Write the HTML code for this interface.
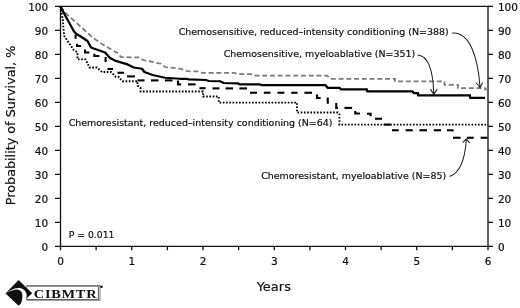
<!DOCTYPE html>
<html><head><meta charset="utf-8"><title>Probability of Survival</title>
<style>
html,body{margin:0;padding:0;background:#fff;}
body{width:520px;height:308px;overflow:hidden;}
svg{display:block;}
text{font-family:"DejaVu Sans","Liberation Sans",sans-serif;fill:#111;stroke:#111;stroke-width:0.2px;}
.t{font-size:10.5px;}
.l{font-size:9.45px;}
.a{font-size:13px;}
.ax{stroke:#111;stroke-width:1.3;fill:none;}
.ar{stroke:#222;stroke-width:1.05;fill:none;stroke-linecap:round;stroke-linejoin:round;}
</style></head><body>
<svg width="520" height="308" viewBox="0 0 520 308">
<rect width="520" height="308" fill="#fff"/>

<path class="ax" d="M60.50 6.30 H488.00 V246.30 H60.50 Z"/>
<path class="ax" d="M60.50 246.30 h-5.5 M488.00 246.30 h5 M60.50 222.30 h-5.5 M488.00 222.30 h5 M60.50 198.30 h-5.5 M488.00 198.30 h5 M60.50 174.30 h-5.5 M488.00 174.30 h5 M60.50 150.30 h-5.5 M488.00 150.30 h5 M60.50 126.30 h-5.5 M488.00 126.30 h5 M60.50 102.30 h-5.5 M488.00 102.30 h5 M60.50 78.30 h-5.5 M488.00 78.30 h5 M60.50 54.30 h-5.5 M488.00 54.30 h5 M60.50 30.30 h-5.5 M488.00 30.30 h5 M60.50 6.30 h-5.5 M488.00 6.30 h5 M60.50 246.30 v4 M96.12 246.30 v4 M131.75 246.30 v4 M167.38 246.30 v4 M203.00 246.30 v4 M238.62 246.30 v4 M274.25 246.30 v4 M309.88 246.30 v4 M345.50 246.30 v4 M381.12 246.30 v4 M416.75 246.30 v4 M452.38 246.30 v4 M488.00 246.30 v4 "/>
<text class="t" x="48.2" y="250.70" text-anchor="end">0</text>
<text class="t" x="497.9" y="250.70">0</text>
<text class="t" x="48.2" y="226.70" text-anchor="end">10</text>
<text class="t" x="497.9" y="226.70">10</text>
<text class="t" x="48.2" y="202.70" text-anchor="end">20</text>
<text class="t" x="497.9" y="202.70">20</text>
<text class="t" x="48.2" y="178.70" text-anchor="end">30</text>
<text class="t" x="497.9" y="178.70">30</text>
<text class="t" x="48.2" y="154.70" text-anchor="end">40</text>
<text class="t" x="497.9" y="154.70">40</text>
<text class="t" x="48.2" y="130.70" text-anchor="end">50</text>
<text class="t" x="497.9" y="130.70">50</text>
<text class="t" x="48.2" y="106.70" text-anchor="end">60</text>
<text class="t" x="497.9" y="106.70">60</text>
<text class="t" x="48.2" y="82.70" text-anchor="end">70</text>
<text class="t" x="497.9" y="82.70">70</text>
<text class="t" x="48.2" y="58.70" text-anchor="end">80</text>
<text class="t" x="497.9" y="58.70">80</text>
<text class="t" x="48.2" y="34.70" text-anchor="end">90</text>
<text class="t" x="497.9" y="34.70">90</text>
<text class="t" x="48.2" y="10.70" text-anchor="end">100</text>
<text class="t" x="497.9" y="10.70">100</text>
<text class="t" x="60.50" y="264.9" text-anchor="middle">0</text>
<text class="t" x="131.75" y="264.9" text-anchor="middle">1</text>
<text class="t" x="203.00" y="264.9" text-anchor="middle">2</text>
<text class="t" x="274.25" y="264.9" text-anchor="middle">3</text>
<text class="t" x="345.50" y="264.9" text-anchor="middle">4</text>
<text class="t" x="416.75" y="264.9" text-anchor="middle">5</text>
<text class="t" x="488.00" y="264.9" text-anchor="middle">6</text>
<polyline points="60.50,6.50 67.50,15.00 80.00,26.00 92.50,37.50 105.00,46.00 118.75,53.75 120.60,57.00 140.00,57.50 143.00,60.00 161.00,63.75 165.00,67.00 180.00,68.75 182.50,69.40 187.50,71.25 198.75,71.50 202.00,72.90 235.00,73.00 237.50,74.20 252.50,74.20 255.60,75.60 327.00,75.60 330.60,78.75 395.00,78.75 395.00,81.25 444.40,81.25 444.40,84.75 458.00,84.75 458.00,88.00 485.00,88.00 485.00,89.40 488.00,89.40" fill="none" stroke="#7a7a7a" stroke-width="1.75" stroke-dasharray="5 2.75"/>
<polyline points="60.50,6.50 62.80,20.00 63.60,30.00 64.30,36.00 67.50,41.00 73.75,50.00 77.50,52.50 77.50,59.40 85.60,59.40 89.40,67.50 97.00,67.50 102.00,72.00 111.00,72.00 116.00,77.00 118.75,77.00 122.50,81.25 137.50,81.25 137.50,85.60 140.60,88.00 140.60,91.50 203.00,91.50 203.00,96.50 218.75,96.50 218.75,102.60 297.00,102.60 297.00,112.50 338.00,112.50 339.40,114.40 339.40,124.60 488.00,124.60" fill="none" stroke="#000" stroke-width="1.9" stroke-dasharray="1.65 1.6"/>
<polyline points="75.60,35.00 75.60,38.75" fill="none" stroke="#000" stroke-width="2.1"/>
<polyline points="77.00,43.75 77.00,46.00 81.00,46.00" fill="none" stroke="#000" stroke-width="2.1"/>
<polyline points="85.00,49.40 85.00,52.50 89.40,52.50" fill="none" stroke="#000" stroke-width="2.1"/>
<polyline points="94.40,53.75 94.40,56.00 99.40,56.00" fill="none" stroke="#000" stroke-width="2.1"/>
<polyline points="105.60,57.00 105.60,62.00" fill="none" stroke="#000" stroke-width="2.1"/>
<polyline points="107.50,69.00 113.00,69.00" fill="none" stroke="#000" stroke-width="2.1"/>
<polyline points="117.50,72.75 124.00,72.75" fill="none" stroke="#000" stroke-width="2.1"/>
<polyline points="127.00,76.40 135.00,76.40" fill="none" stroke="#000" stroke-width="2.1"/>
<polyline points="137.50,80.40 144.40,80.40" fill="none" stroke="#000" stroke-width="2.1"/>
<polyline points="151.00,80.40 158.50,80.40" fill="none" stroke="#000" stroke-width="2.1"/>
<polyline points="165.00,80.40 172.50,80.40" fill="none" stroke="#000" stroke-width="2.1"/>
<polyline points="178.00,80.40 178.00,84.40 181.00,84.40" fill="none" stroke="#000" stroke-width="2.1"/>
<polyline points="188.00,84.40 195.60,84.40" fill="none" stroke="#000" stroke-width="2.1"/>
<polyline points="199.40,88.20 205.60,88.20" fill="none" stroke="#000" stroke-width="2.1"/>
<polyline points="212.50,88.40 219.40,88.40" fill="none" stroke="#000" stroke-width="2.1"/>
<polyline points="225.60,88.40 233.00,88.40" fill="none" stroke="#000" stroke-width="2.1"/>
<polyline points="239.40,88.40 247.00,88.40" fill="none" stroke="#000" stroke-width="2.1"/>
<polyline points="250.00,92.75 257.00,92.75" fill="none" stroke="#000" stroke-width="2.1"/>
<polyline points="263.75,92.75 270.50,92.75" fill="none" stroke="#000" stroke-width="2.1"/>
<polyline points="277.50,92.75 284.40,92.75" fill="none" stroke="#000" stroke-width="2.1"/>
<polyline points="291.25,92.75 297.50,92.75" fill="none" stroke="#000" stroke-width="2.1"/>
<polyline points="304.40,92.75 312.00,92.75" fill="none" stroke="#000" stroke-width="2.1"/>
<polyline points="317.00,94.40 317.00,98.00 320.60,98.00" fill="none" stroke="#000" stroke-width="2.1"/>
<polyline points="327.75,97.50 327.75,103.75" fill="none" stroke="#000" stroke-width="2.1"/>
<polyline points="336.25,103.00 336.25,108.00 338.00,108.00" fill="none" stroke="#000" stroke-width="2.1"/>
<polyline points="344.40,107.90 352.00,107.90" fill="none" stroke="#000" stroke-width="2.1"/>
<polyline points="355.30,111.00 355.30,113.50 360.00,113.50" fill="none" stroke="#000" stroke-width="2.1"/>
<polyline points="367.00,113.75 370.60,113.75 370.60,116.25" fill="none" stroke="#000" stroke-width="2.1"/>
<polyline points="375.00,118.75 382.00,118.75" fill="none" stroke="#000" stroke-width="2.1"/>
<polyline points="383.75,124.60 390.60,124.60" fill="none" stroke="#000" stroke-width="2.1"/>
<polyline points="392.00,130.25 398.75,130.25" fill="none" stroke="#000" stroke-width="2.1"/>
<polyline points="405.60,130.25 412.75,130.25" fill="none" stroke="#000" stroke-width="2.1"/>
<polyline points="419.40,130.25 427.00,130.25" fill="none" stroke="#000" stroke-width="2.1"/>
<polyline points="433.75,130.25 441.00,130.25" fill="none" stroke="#000" stroke-width="2.1"/>
<polyline points="447.00,130.25 452.50,130.25 452.50,131.50" fill="none" stroke="#000" stroke-width="2.1"/>
<polyline points="453.00,137.75 460.60,137.75" fill="none" stroke="#000" stroke-width="2.1"/>
<polyline points="467.00,137.75 473.75,137.75" fill="none" stroke="#000" stroke-width="2.1"/>
<polyline points="480.60,137.75 487.50,137.75" fill="none" stroke="#000" stroke-width="2.1"/>
<polyline points="60.50,6.50 66.00,17.00 73.75,31.00 76.00,33.75 80.00,36.00 87.50,41.00 91.00,47.50 105.00,52.50 110.00,58.00 115.00,60.60 127.50,64.40 133.75,67.50 142.00,68.75 144.40,72.00 152.50,75.00 165.00,77.75 180.00,78.75 186.00,78.75 188.75,79.40 206.00,80.00 208.75,81.00 220.00,81.25 223.75,83.00 238.00,83.40 240.00,84.40 259.40,84.40 262.00,85.20 325.60,85.20 327.50,87.75 339.40,87.75 341.00,89.40 367.00,89.40 367.00,91.25 412.50,91.25 413.75,93.00 418.00,93.00 418.00,95.40 470.00,95.40 470.00,97.75 485.00,97.75" fill="none" stroke="#000" stroke-width="2.25" stroke-linejoin="round"/>
<text class="l" x="178.7" y="35.2" textLength="270" lengthAdjust="spacingAndGlyphs">Chemosensitive, reduced–intensity conditioning (N=388)</text>
<text class="l" x="223.7" y="57.2" textLength="191.5" lengthAdjust="spacingAndGlyphs">Chemosensitive, myeloablative (N=351)</text>
<text class="l" x="68.7" y="126.4" textLength="263.8" lengthAdjust="spacingAndGlyphs">Chemoresistant, reduced–intensity conditioning (N=64)</text>
<text class="l" x="261.2" y="178.9" textLength="185" lengthAdjust="spacingAndGlyphs">Chemoresistant, myeloablative (N=85)</text>
<text class="l" x="68.7" y="238.2" textLength="45.8" lengthAdjust="spacingAndGlyphs">P = 0.011</text>
<path class="ar" d="M452.5 33 C470 32 478 58 480 87 M476.3 83 L480 87.5 L482.6 83"/>
<path class="ar" d="M418 55 C428 56 433 68 433.8 94 M430.6 89.4 L433.8 94.4 L437 89.4"/>
<path class="ar" d="M450 176.3 C459 173 465 160 466.3 139.5 M463 142.3 L466.3 138.8 L469.5 142.6"/>
<text class="a" x="273.8" y="290.7" text-anchor="middle">Years</text>
<text class="a" style="font-size:12.75px" transform="translate(15 205.2) rotate(-90)" textLength="159.5" lengthAdjust="spacingAndGlyphs">Probability of Survival, %</text>
<g>
<rect x="26.7" y="285.8" width="73.3" height="14.3" fill="#fff" stroke="#8a8a8a" stroke-width="1.1"/>
<path d="M26.7 285.8 H100" fill="none" stroke="#808080" stroke-width="1.7"/>
<path d="M27 299.7 H98.4 V287" fill="none" stroke="#2a2a2a" stroke-width="0.8"/>
<path d="M18.6 280 L32.2 293.2 L18.6 305.7 L5.5 293.5 Z" fill="#111"/>
<path d="M7.3 292.4 C11 289.5 15 287.7 19.5 287.9 C24 288.5 27 292 26.7 296 C26.4 299 25 301.5 23.2 303.4 L20.6 305 C22.4 300 23 296 21.8 292.6 C20.8 290.4 19 289.4 17 289.4 C13.5 289.6 10.5 290.9 7.3 292.4 Z" fill="#fff"/>
<text transform="translate(33.8 297.9) scale(1.09 1)" textLength="57.6" lengthAdjust="spacing" style="font-family:'Liberation Serif','DejaVu Serif',serif;font-weight:bold;font-size:13.2px;fill:#111;stroke:none">CIBMTR</text>
<circle cx="101.5" cy="286.7" r="1.3" fill="#111"/>
</g>
</svg></body></html>
